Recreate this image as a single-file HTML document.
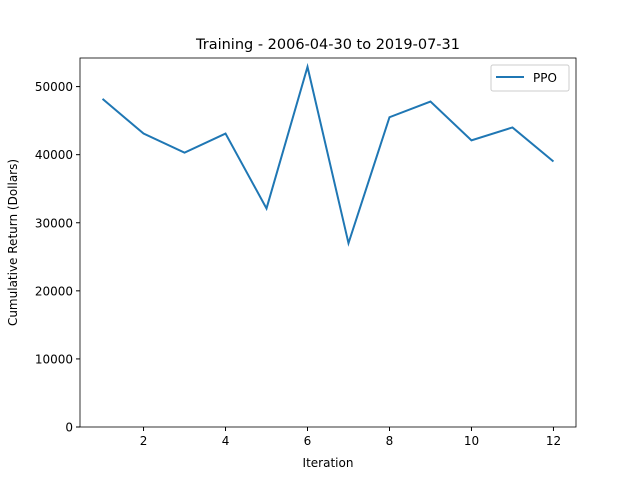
<!DOCTYPE html>
<html><head><meta charset="utf-8"><style>
body{margin:0;background:#fff;}
svg{display:block;font-family:"DejaVu Sans","Liberation Sans",sans-serif;}
</style></head><body>
<svg id="chart" width="640" height="480">
<rect x="0" y="0" width="640" height="480" fill="#fff"/>
<text x="328" y="49" text-anchor="middle" font-size="14.5">Training - 2006-04-30 to 2019-07-31</text>
<g id="grid"></g>
<g id="series"></g>
<rect x="80" y="58" width="496" height="369" fill="none" stroke="#000" stroke-width="0.8"/>
<text x="328" y="467" text-anchor="middle" font-size="12">Iteration</text>
<text transform="translate(17,242.5) rotate(-90)" text-anchor="middle" font-size="12">Cumulative Return (Dollars)</text>
<g>
<rect x="491" y="65" width="78" height="26" rx="2" fill="#fff" stroke="#ccc"/>
<line x1="496" y1="77" x2="524" y2="77" stroke="#1f77b4" stroke-width="2"/>
<text x="533" y="82" font-size="12">PPO</text>
</g>
</svg>
<script>
const iterations=[1,2,3,4,5,6,7,8,9,10,11,12];
const ppoValues=[48200,43100,40300,43100,32100,52900,27000,45500,47800,42100,44000,39000];
const xTicks=[2,4,6,8,10,12];
const yTicks=[0,10000,20000,30000,40000,50000];
const ns="http://www.w3.org/2000/svg";
const X0=80,X1=576,Y0=427,Y1=58,xmin=0.45,xmax=12.55,ymin=0,ymax=54200;
function sx(v){return X0+(v-xmin)/(xmax-xmin)*(X1-X0);}
function sy(v){return Y0-(v-ymin)/(ymax-ymin)*(Y0-Y1);}
const g=document.getElementById('grid');
xTicks.forEach(t=>{
 const l=document.createElementNS(ns,'line');
 l.setAttribute('x1',sx(t));l.setAttribute('x2',sx(t));l.setAttribute('y1',Y0);l.setAttribute('y2',Y0+4);l.setAttribute('stroke','#000');
 
 
 g.appendChild(l);
 const tx=document.createElementNS(ns,'text');
 tx.setAttribute('x',sx(t));tx.setAttribute('y',Y0+18);tx.setAttribute('text-anchor','middle');tx.setAttribute('font-size','12');
 tx.textContent=t;
 
 
 g.appendChild(tx);
});
yTicks.forEach(t=>{
 const l=document.createElementNS(ns,'line');
 l.setAttribute('x1',X0-4);l.setAttribute('x2',X0);l.setAttribute('y1',sy(t));l.setAttribute('y2',sy(t));l.setAttribute('stroke','#000');
 
 
 g.appendChild(l);
 const tx=document.createElementNS(ns,'text');
 tx.setAttribute('x',X0-7);tx.setAttribute('y',sy(t)+4.5);tx.setAttribute('text-anchor','end');tx.setAttribute('font-size','12');
 tx.textContent=t;
 
 
 g.appendChild(tx);
});
const p=document.createElementNS(ns,'polyline');
p.setAttribute('points',iterations.map((x,i)=>sx(x)+','+sy(ppoValues[i])).join(' '));
p.setAttribute('fill','none');p.setAttribute('stroke','#1f77b4');p.setAttribute('stroke-width','2');


document.getElementById('series').appendChild(p);
</script>
</body></html>
